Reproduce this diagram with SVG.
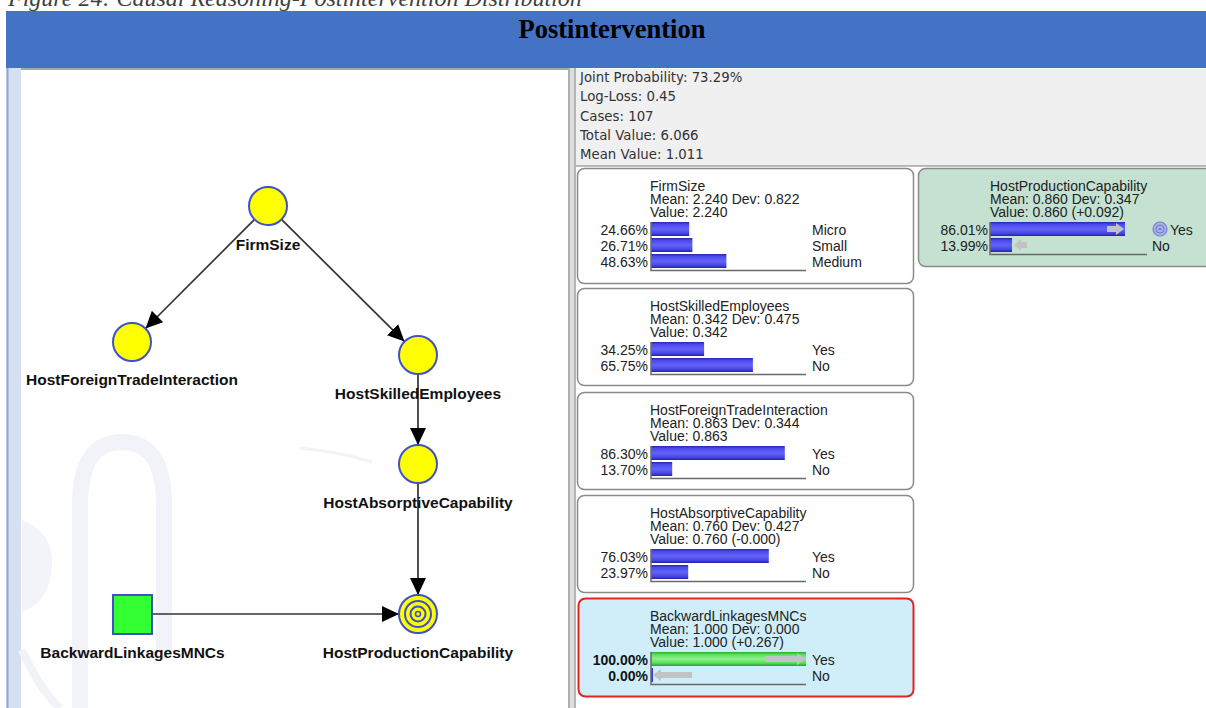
<svg xmlns="http://www.w3.org/2000/svg" width="1206" height="708" viewBox="0 0 1206 708">
  <defs>
    <style>
      .cap { font-family: "Liberation Serif", "Times New Roman", serif; font-style: italic; font-size: 24px; fill: #404040; }
      .hdr { font-family: "Liberation Serif", "Times New Roman", serif; font-weight: bold; font-size: 26.5px; fill: #000; }
      .lbl { font-family: "Liberation Sans", Arial, sans-serif; font-weight: bold; font-size: 15.5px; fill: #111; }
      .sum { font-family: "DejaVu Sans", Tahoma, sans-serif; font-size: 13.3px; fill: #333; }
      .bx { font-family: "Liberation Sans", Arial, sans-serif; font-size: 14px; fill: #222; }
      .pct { font-family: "Liberation Sans", Arial, sans-serif; font-size: 14px; fill: #222; text-anchor: end; }
      .pctb { font-family: "Liberation Sans", Arial, sans-serif; font-size: 14px; font-weight: bold; fill: #111; text-anchor: end; }
      .card { fill: #fff; stroke: #8a8a8a; stroke-width: 1.5; }
      .axis { stroke: #6a6a6a; stroke-width: 1.5; fill: none; }
      .node { fill: #ffff00; stroke: #3f51c8; stroke-width: 2; }
      .edge { stroke: #333; stroke-width: 1.7; fill: none; marker-end: url(#arrow); }
      .ghost { fill: #c2c2c2; }
    </style>
    <linearGradient id="gBlue" x1="0" y1="0" x2="0" y2="1">
      <stop offset="0" stop-color="#2626b0"/>
      <stop offset="0.18" stop-color="#4a4aee"/>
      <stop offset="0.5" stop-color="#6464f6"/>
      <stop offset="0.82" stop-color="#4444e4"/>
      <stop offset="1" stop-color="#22229c"/>
    </linearGradient>
    <linearGradient id="gGreen" x1="0" y1="0" x2="0" y2="1">
      <stop offset="0" stop-color="#2daa2d"/>
      <stop offset="0.2" stop-color="#5ee35e"/>
      <stop offset="0.5" stop-color="#8cf08c"/>
      <stop offset="0.8" stop-color="#55dc55"/>
      <stop offset="1" stop-color="#2a9e2a"/>
    </linearGradient>
    <marker id="arrow" markerUnits="userSpaceOnUse" markerWidth="18" markerHeight="16" refX="17" refY="8" orient="auto">
      <path d="M0,0 L17,8 L0,16 Z" fill="#000"/>
    </marker>
  </defs>

  <rect width="1206" height="708" fill="#fff"/>

  <!-- caption, clipped at the top edge -->
  <text class="cap" x="8" y="5.5">Figure 24: Causal Reasoning-Postintervention Distribution</text>

  <!-- header band -->
  <rect x="6" y="11" width="1200" height="57" fill="#4472c4"/>
  <text class="hdr" x="612" y="38" text-anchor="middle">Postintervention</text>

  <!-- network panel -->
  <g id="network-panel">
    <rect x="6" y="68" width="564" height="640" fill="#fff"/>
    <rect x="6" y="68" width="15" height="640" fill="#d7e0f1"/>
    <line x1="7.5" y1="68" x2="7.5" y2="708" stroke="#8ea6d8" stroke-width="2"/>
    <line x1="21" y1="69" x2="570" y2="69" stroke="#a8a8a8" stroke-width="2"/>
    <rect x="568" y="68" width="8" height="640" fill="#dcdcdc"/>
    <line x1="569" y1="68" x2="569" y2="708" stroke="#a0a0a0" stroke-width="1.5"/>
    <line x1="575" y1="68" x2="575" y2="708" stroke="#a6a6a6" stroke-width="1.5"/>
  </g>

  <!-- faint background logo -->
  <g id="watermark" fill="none" stroke="#f2f3f9">
    <path d="M80 708 V505 Q80 442 122 442 Q164 442 164 505 V650" stroke-width="16"/>
    <path d="M22 520 Q54 532 52 566 Q50 602 22 612 Z" fill="#f3f4fa" stroke="none"/>
    <path d="M300 448 Q340 452 372 462" stroke-width="3"/>
    <path d="M22 650 Q40 690 60 708" stroke-width="8"/>
  </g>

  <!-- connectors -->
  <g id="connectors">
    <line class="edge" x1="254.6" y1="219.4" x2="145.5" y2="328.5"/>
    <line class="edge" x1="281.5" y1="219.4" x2="404.5" y2="341.6"/>
    <line class="edge" x1="418" y1="375" x2="418" y2="445"/>
    <line class="edge" x1="418" y1="484" x2="418" y2="595"/>
    <line class="edge" x1="153" y1="614" x2="399" y2="614"/>
  </g>

  <!-- nodes -->
  <g id="node-firmsize">
    <circle class="node" cx="268" cy="206" r="19"/>
    <text class="lbl" x="268" y="250" text-anchor="middle">FirmSize</text>
  </g>
  <g id="node-hostforeigntradeinteraction">
    <circle class="node" cx="132" cy="342" r="19"/>
    <text class="lbl" x="132" y="385" text-anchor="middle">HostForeignTradeInteraction</text>
  </g>
  <g id="node-hostskilledemployees">
    <circle class="node" cx="418" cy="355" r="19"/>
    <text class="lbl" x="418" y="399" text-anchor="middle">HostSkilledEmployees</text>
  </g>
  <g id="node-hostabsorptivecapability">
    <circle class="node" cx="418" cy="464" r="19"/>
    <text class="lbl" x="418" y="508" text-anchor="middle">HostAbsorptiveCapability</text>
  </g>
  <g id="node-hostproductioncapability">
    <circle class="node" cx="418" cy="614" r="19"/>
    <circle cx="418" cy="614" r="13" fill="none" stroke="#3f51c8" stroke-width="2"/>
    <circle cx="418" cy="614" r="7.5" fill="none" stroke="#3f51c8" stroke-width="2"/>
    <circle cx="418" cy="614" r="2.5" fill="none" stroke="#3f51c8" stroke-width="1.6"/>
    <text class="lbl" x="418" y="658" text-anchor="middle">HostProductionCapability</text>
  </g>
  <g id="node-backwardlinkagesmncs">
    <rect x="113" y="595" width="39" height="39" fill="#33ff33" stroke="#3f51c8" stroke-width="2"/>
    <text class="lbl" x="132.5" y="658" text-anchor="middle">BackwardLinkagesMNCs</text>
  </g>

  <!-- monitor panel -->
  <g id="summary">
    <rect x="576" y="69" width="630" height="97" fill="#f0f0f0"/>
    <line x1="576" y1="166" x2="1206" y2="166" stroke="#a4a4a4" stroke-width="1.5"/>
    <text class="sum" x="580" y="82">Joint Probability: 73.29%</text>
    <text class="sum" x="580" y="101">Log-Loss: 0.45</text>
    <text class="sum" x="580" y="121">Cases: 107</text>
    <text class="sum" x="580" y="140">Total Value: 6.066</text>
    <text class="sum" x="580" y="159">Mean Value: 1.011</text>
  </g>

  <g id="monitor-firmsize">
    <rect class="card" x="577.5" y="168.5" width="336" height="115" rx="7"/>
    <text class="bx" x="650" y="191">FirmSize</text>
    <text class="bx" x="650" y="204">Mean: 2.240 Dev: 0.822</text>
    <text class="bx" x="650" y="217">Value: 2.240</text>
    <rect x="651" y="222" width="38.2" height="14" fill="url(#gBlue)"/>
    <rect x="651" y="238" width="41.4" height="14" fill="url(#gBlue)"/>
    <rect x="651" y="254" width="75.4" height="14" fill="url(#gBlue)"/>
    <path class="axis" d="M651 222 V270.5 H806"/>
    <text class="pct" x="648" y="235">24.66%</text>
    <text class="pct" x="648" y="251">26.71%</text>
    <text class="pct" x="648" y="267">48.63%</text>
    <text class="bx" x="812" y="235">Micro</text>
    <text class="bx" x="812" y="251">Small</text>
    <text class="bx" x="812" y="267">Medium</text>
  </g>

  <g id="monitor-hostproductioncapability">
    <rect x="918.5" y="168.5" width="300" height="98" rx="7" fill="#c4e1d2" stroke="#8a8a8a" stroke-width="1.5"/>
    <text class="bx" x="990" y="191">HostProductionCapability</text>
    <text class="bx" x="990" y="204">Mean: 0.860 Dev: 0.347</text>
    <text class="bx" x="990" y="217">Value: 0.860 (+0.092)</text>
    <rect x="990" y="222" width="135" height="14" fill="url(#gBlue)"/>
    <rect x="990" y="238" width="22" height="14" fill="url(#gBlue)"/>
    <path class="ghost" d="M1107 226 H1116 V223 L1124 229 L1116 235 V232 H1107 Z"/>
    <path class="ghost" d="M1027 242 H1021 V239 L1014 245 L1021 251 V248 H1027 Z"/>
    <path class="axis" d="M990 222 V254.5 H1147"/>
    <text class="pct" x="988" y="235">86.01%</text>
    <text class="pct" x="988" y="251">13.99%</text>
    <circle cx="1160" cy="229" r="7" fill="#a9b1e8" stroke="#7382d2" stroke-width="1.2"/>
    <circle cx="1160" cy="229" r="4" fill="none" stroke="#6a78c6" stroke-width="1"/>
    <circle cx="1160" cy="229" r="1" fill="#5060b8"/>
    <text class="bx" x="1170" y="235">Yes</text>
    <text class="bx" x="1152" y="251">No</text>
  </g>

  <g id="monitor-hostskilledemployees">
    <rect class="card" x="577.5" y="288.5" width="336" height="97" rx="7"/>
    <text class="bx" x="650" y="311">HostSkilledEmployees</text>
    <text class="bx" x="650" y="324">Mean: 0.342 Dev: 0.475</text>
    <text class="bx" x="650" y="337">Value: 0.342</text>
    <rect x="651" y="342" width="53.1" height="14" fill="url(#gBlue)"/>
    <rect x="651" y="358" width="101.9" height="14" fill="url(#gBlue)"/>
    <path class="axis" d="M651 342 V374.5 H806"/>
    <text class="pct" x="648" y="355">34.25%</text>
    <text class="pct" x="648" y="371">65.75%</text>
    <text class="bx" x="812" y="355">Yes</text>
    <text class="bx" x="812" y="371">No</text>
  </g>

  <g id="monitor-hostforeigntradeinteraction">
    <rect class="card" x="577.5" y="392.5" width="336" height="97" rx="7"/>
    <text class="bx" x="650" y="415">HostForeignTradeInteraction</text>
    <text class="bx" x="650" y="428">Mean: 0.863 Dev: 0.344</text>
    <text class="bx" x="650" y="441">Value: 0.863</text>
    <rect x="651" y="446" width="133.8" height="14" fill="url(#gBlue)"/>
    <rect x="651" y="462" width="21.2" height="14" fill="url(#gBlue)"/>
    <path class="axis" d="M651 446 V478.5 H806"/>
    <text class="pct" x="648" y="459">86.30%</text>
    <text class="pct" x="648" y="475">13.70%</text>
    <text class="bx" x="812" y="459">Yes</text>
    <text class="bx" x="812" y="475">No</text>
  </g>

  <g id="monitor-hostabsorptivecapability">
    <rect class="card" x="577.5" y="495.5" width="336" height="97" rx="7"/>
    <text class="bx" x="650" y="518">HostAbsorptiveCapability</text>
    <text class="bx" x="650" y="531">Mean: 0.760 Dev: 0.427</text>
    <text class="bx" x="650" y="544">Value: 0.760 (-0.000)</text>
    <rect x="651" y="549" width="117.8" height="14" fill="url(#gBlue)"/>
    <rect x="651" y="565" width="37.2" height="14" fill="url(#gBlue)"/>
    <path class="axis" d="M651 549 V581.5 H806"/>
    <text class="pct" x="648" y="562">76.03%</text>
    <text class="pct" x="648" y="578">23.97%</text>
    <text class="bx" x="812" y="562">Yes</text>
    <text class="bx" x="812" y="578">No</text>
  </g>

  <g id="monitor-backwardlinkagesmncs">
    <rect x="578.5" y="598.5" width="335" height="98" rx="7" fill="#cfeefa" stroke="#e82020" stroke-width="2"/>
    <text class="bx" x="650" y="621">BackwardLinkagesMNCs</text>
    <text class="bx" x="650" y="634">Mean: 1.000 Dev: 0.000</text>
    <text class="bx" x="650" y="647">Value: 1.000 (+0.267)</text>
    <rect x="651" y="652" width="155" height="14" fill="url(#gGreen)"/>
    <path class="ghost" d="M765 656 H797 V653 L806 659 L797 665 V662 H765 Z"/>
    <rect x="651" y="668" width="2" height="14" fill="#3a3ad0"/>
    <path class="ghost" d="M692 672 H661 V669 L653 675 L661 681 V678 H692 Z"/>
    <path class="axis" d="M651 652 V684.5 H806"/>
    <text class="pctb" x="648" y="665">100.00%</text>
    <text class="pctb" x="648" y="681">0.00%</text>
    <text class="bx" x="812" y="665">Yes</text>
    <text class="bx" x="812" y="681">No</text>
  </g>
</svg>
